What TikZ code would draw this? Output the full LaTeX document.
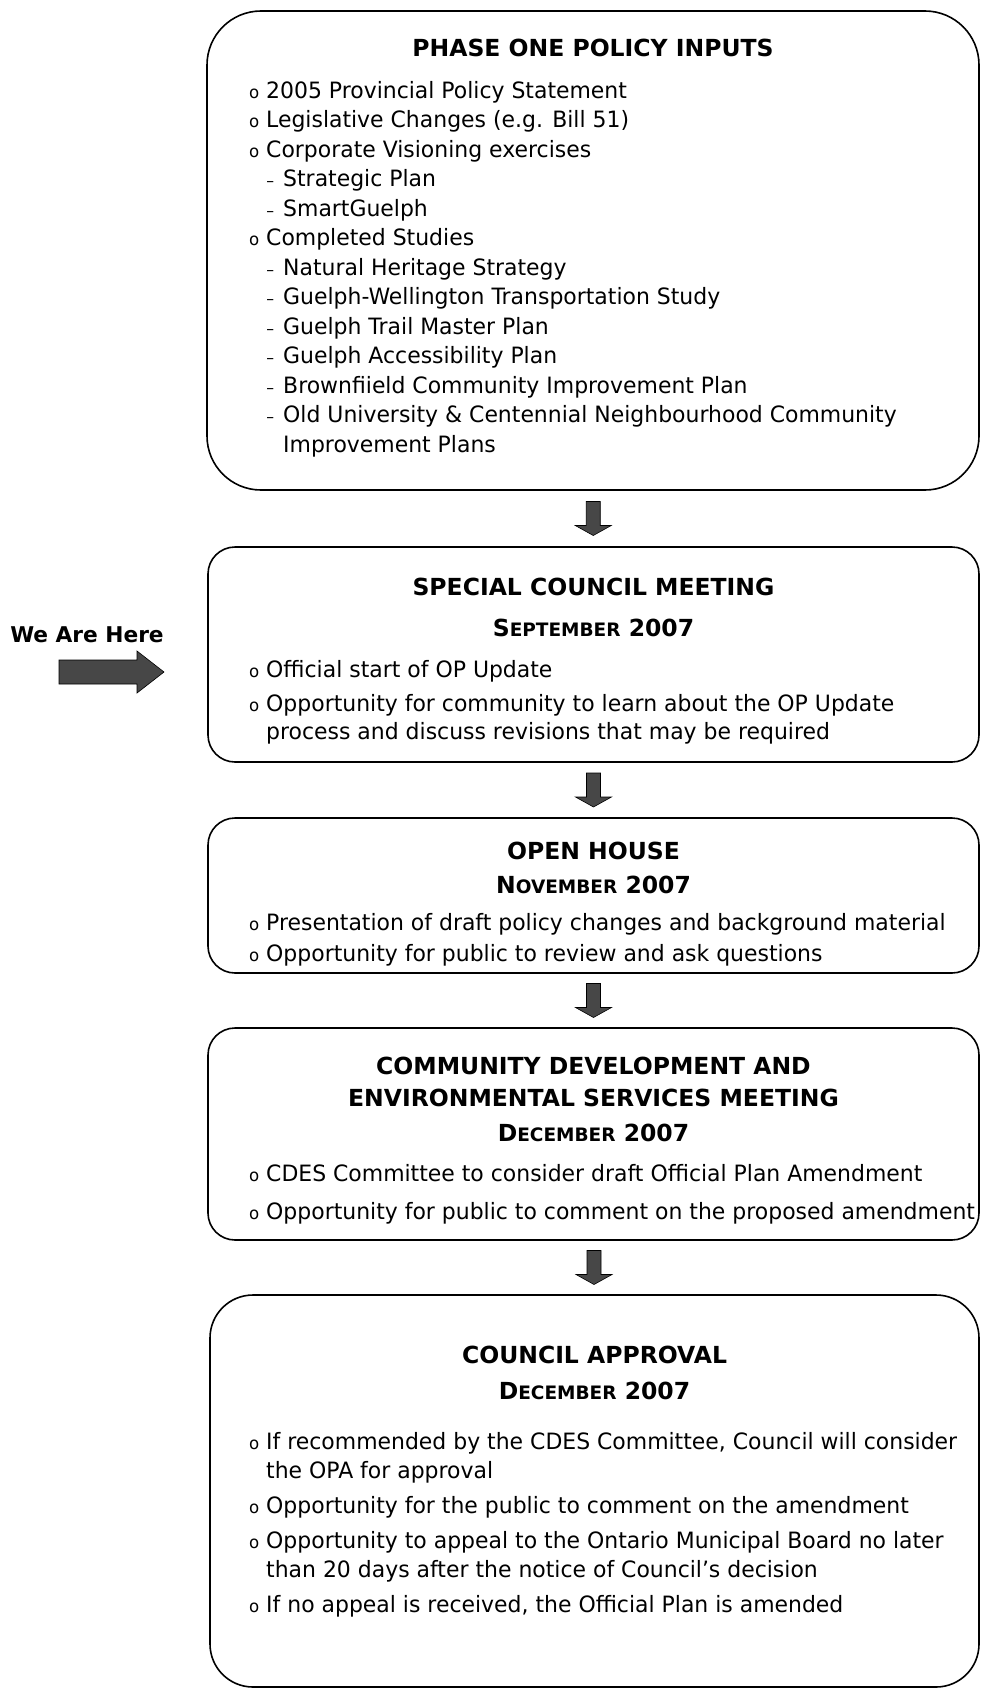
\documentclass[tikz,border=0pt]{standalone}
\usepackage{fontspec}
\usetikzlibrary{calc}
\newfontfamily\bodyf{DejaVu Sans}[FakeStretch=0.975]
\newfontfamily\headf{DejaVu Sans}
\newcommand\bodysize{\bodyf\fontsize{22.5}{28.6}\selectfont}
\newcommand\headsize{\headf\bfseries\fontsize{23.5}{28}\selectfont}
\newcommand\scsize{\fontsize{18.5}{20}\selectfont}
\newcommand\bul{\llap{{\fontsize{17}{17}\selectfont o}\hspace{7pt}}}
\newcommand\sbul{\llap{{\fontsize{16}{16}\selectfont –}\hspace{9pt}}}
\begin{document}
\begin{tikzpicture}[x=1pt,y=-1pt,
  box/.style={draw, line width=1.6pt, inner sep=0pt},
  txt/.style={anchor=base west, inner sep=0pt, font=\bodysize},
  head/.style={anchor=base, inner sep=0pt, font=\headsize},
  arrfill/.style={fill=black!72, draw=black, line width=0.6pt},
  pics/downarr/.style={code={\path[arrfill] (-7,-17) -- (7,-17) -- (7,7) -- (18,7) -- (0,17) -- (-18,7) -- (-7,7) -- cycle;}}
]
\useasboundingbox (0,0) rectangle (981,1689);

% boxes
\node[box, rounded corners=54pt, minimum width=772pt, minimum height=479pt] (b1) at (593,250.5) {};
\node[box, rounded corners=27pt, minimum width=771pt, minimum height=215pt] (b2) at (593.5,654.5) {};
\node[box, rounded corners=27pt, minimum width=771pt, minimum height=155pt] (b3) at (593.5,895.5) {};
\node[box, rounded corners=27pt, minimum width=771pt, minimum height=212pt] (b4) at (593.5,1134) {};
\node[box, rounded corners=43pt, minimum width=769pt, minimum height=392pt] (b5) at (594.5,1491) {};

% connectors
\path ($(b1.south)!0.5!(b2.north)$) pic {downarr};
\path ($(b2.south)!0.5!(b3.north)$) pic {downarr};
\path ($(b3.south)!0.5!(b4.north)$) pic {downarr};
\path ($(b4.south)!0.5!(b5.north)$) pic {downarr};

% box 1
\node[head] (t1) at (593,56) {PHASE ONE POLICY INPUTS};
\node[txt] (l1a) at (266,98) {\bul 2005 Provincial Policy Statement};
\node[txt] (l1b) at (266,127.5) {\bul Legislative Changes (e.g. Bill 51)};
\node[txt] (l1c) at (266,157) {\bul Corporate Visioning exercises};
\node[txt] (l1d) at (283,186.5) {\sbul Strategic Plan};
\node[txt] (l1e) at (283,216) {\sbul SmartGuelph};
\node[txt] (l1f) at (266,245.5) {\bul Completed Studies};
\node[txt] (l1g) at (283,275) {\sbul Natural Heritage Strategy};
\node[txt] (l1h) at (283,304.5) {\sbul Guelph-Wellington Transportation Study};
\node[txt] (l1i) at (283,334) {\sbul Guelph Trail Master Plan};
\node[txt] (l1j) at (283,363.5) {\sbul Guelph Accessibility Plan};
\node[txt] (l1k) at (283,393) {\sbul Brownfiield Community Improvement Plan};
\node[txt] (l1l) at (283,422.5) {\sbul Old University \& Centennial Neighbourhood Community};
\node[txt] (l1m) at (283,452) {Improvement Plans};

% we are here
\node[anchor=base, inner sep=0pt, font=\headf\bfseries\fontsize{21.7}{24}\selectfont] (here) at (87,642) {We Are Here};
\path[arrfill] (59,660) -- (137,660) -- (137,651) -- (164,672) -- (137,693) -- (137,684) -- (59,684) -- cycle;

% box 2
\node[head] (t2) at (593.5,595) {SPECIAL COUNCIL MEETING};
\node[head] (d2) at (593.5,636) {S{\scsize EPTEMBER} 2007};
\node[txt] (l2a) at (266,677) {\bul Official start of OP Update};
\node[txt] (l2b) at (266,711) {\bul Opportunity for community to learn about the OP Update};
\node[txt] (l2c) at (266,739) {process and discuss revisions that may be required};

% box 3
\node[head] (t3) at (593.5,859) {OPEN HOUSE};
\node[head] (d3) at (593.5,893) {N{\scsize OVEMBER} 2007};
\node[txt] (l3a) at (266,930) {\bul Presentation of draft policy changes and background material};
\node[txt] (l3b) at (266,961) {\bul Opportunity for public to review and ask questions};

% box 4
\node[head] (t4a) at (593.5,1074) {COMMUNITY DEVELOPMENT AND};
\node[head] (t4b) at (593.5,1106) {ENVIRONMENTAL SERVICES MEETING};
\node[head] (d4) at (593.5,1141) {D{\scsize ECEMBER} 2007};
\node[txt] (l4a) at (266,1181) {\bul CDES Committee to consider draft Official Plan Amendment};
\node[txt] (l4b) at (266,1219) {\bul Opportunity for public to comment on the proposed amendment};

% box 5
\node[head] (t5) at (594.5,1363) {COUNCIL APPROVAL};
\node[head] (d5) at (594.5,1399) {D{\scsize ECEMBER} 2007};
\node[txt] (l5a) at (266,1449) {\bul If recommended by the CDES Committee, Council will consider};
\node[txt] (l5b) at (266,1478) {the OPA for approval};
\node[txt] (l5c) at (266,1513) {\bul Opportunity for the public to comment on the amendment};
\node[txt] (l5d) at (266,1548) {\bul Opportunity to appeal to the Ontario Municipal Board no later};
\node[txt] (l5e) at (266,1577) {than 20 days after the notice of Council’s decision};
\node[txt] (l5f) at (266,1612) {\bul If no appeal is received, the Official Plan is amended};
\end{tikzpicture}
\end{document}
